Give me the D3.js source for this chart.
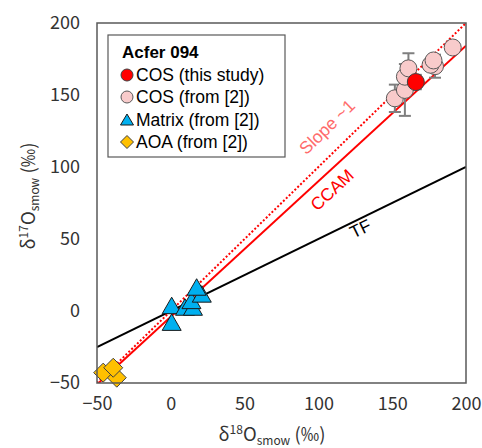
<!DOCTYPE html>
<html>
<head>
<meta charset="utf-8">
<script src="https://cdn.jsdelivr.net/npm/d3@7"></script>
<style>
  body { margin: 0; background: #fff; }
  svg { display: block; }
</style>
</head>
<body>
<div id="chart"></div>
<script>
// data (delta18O, delta17O in permil)
var cosThisStudy = [[166, 159, 5]];
var cosRef = [
  [151.8, 147.7, 9.5],
  [158.6, 153.5, 18],
  [158.6, 162.7, 0],
  [161, 168.5, 10.5],
  [179, 170, 8],
  [176, 171, 0],
  [178, 174, 0],
  [191, 183, 0]
];
var matrixRef = [
  [0.6, -8.6], [0.6, 3], [9.6, 1.9], [15, 1.9],
  [14, 6.5], [21, 11], [17.5, 15.8]
];
var aoaRef = [[-36.6, -46.3], [-45.8, -42.8], [-39, -39.4]];

// reference lines: slope, intercept
var tfLine = [0.5, 0];
var ccamLine = [0.941, -4.0];
var slope1Line = [1.0, 0];

var xTicks = [-50, 0, 50, 100, 150, 200];
var yTicks = [-50, 0, 50, 100, 150, 200];

var legendItems = ["COS (this study)", "COS (from [2])", "Matrix (from [2])", "AOA (from [2])"];

var width = 482, height = 448;
var margin = {left: 97, right: 16, top: 23, bottom: 65};

var svg = d3.select("#chart").append("svg")
  .attr("width", width)
  .attr("height", height);

var x = d3.scaleLinear().domain([-50, 200]).range([margin.left, width - margin.right]);
var y = d3.scaleLinear().domain([-50, 200]).range([height - margin.bottom, margin.top]);

svg.append("defs").append("clipPath").attr("id", "clip")
  .append("rect")
  .attr("x", x(-50)).attr("y", y(200))
  .attr("width", x(200) - x(-50)).attr("height", y(-50) - y(200));

var plot = svg.append("g").attr("clip-path", "url(#clip)");

function lineEnds(l) {
  // clip line to the domain box
  var pts = [];
  [-50, 200].forEach(function(xv) {
    var yv = l[0] * xv + l[1];
    if (yv >= -50 && yv <= 200) pts.push([xv, yv]);
  });
  [-50, 200].forEach(function(yv) {
    var xv = (yv - l[1]) / l[0];
    if (xv > -50 && xv < 200) pts.push([xv, yv]);
  });
  pts.sort(function(a, b) { return a[0] - b[0]; });
  return [pts[0], pts[pts.length - 1]];
}

function drawLine(l, color, dash, w) {
  var e = lineEnds(l);
  plot.append("line")
    .attr("x1", x(e[0][0])).attr("y1", y(e[0][1]))
    .attr("x2", x(e[1][0])).attr("y2", y(e[1][1]))
    .attr("stroke", color)
    .attr("stroke-width", w)
    .attr("stroke-dasharray", dash);
}

drawLine(tfLine, "#000", null, 2);
drawLine(ccamLine, "#ff0000", null, 2);
drawLine(slope1Line, "#ff0000", "2,2", 2);

// line labels
function lineLabel(txt, px, py, l, color) {
  var ang = -Math.atan(l[0] * (y(0) - y(1)) / (x(1) - x(0))) * 180 / Math.PI;
  svg.append("text")
    .attr("transform", "translate(" + px + "," + py + ") rotate(" + ang + ")")
    .attr("text-anchor", "middle")
    .attr("dominant-baseline", "middle")
    .style("font-family", "Liberation Sans, Arial, sans-serif")
    .style("font-size", "17.5px")
    .attr("fill", color)
    .text(txt);
}
lineLabel("Slope ~1", 328, 128, slope1Line, "#ff6b6b");
lineLabel("CCAM", 333, 191, ccamLine, "#ff0000");
lineLabel("TF", 361, 230, tfLine, "#000");

// error bars
var errData = cosRef.concat(cosThisStudy).filter(function(d) { return d[2] > 0; });
var eb = svg.append("g").attr("stroke", "#7f7f7f").attr("stroke-width", 2);
errData.forEach(function(d) {
  var cx = x(d[0]);
  eb.append("line").attr("x1", cx).attr("x2", cx).attr("y1", y(d[1] - d[2])).attr("y2", y(d[1] + d[2]));
  eb.append("line").attr("x1", cx - 6).attr("x2", cx + 6).attr("y1", y(d[1] - d[2])).attr("y2", y(d[1] - d[2]));
  eb.append("line").attr("x1", cx - 6).attr("x2", cx + 6).attr("y1", y(d[1] + d[2])).attr("y2", y(d[1] + d[2]));
});

var triPath = "M0,-9.5L9.5,7L-9.5,7Z";
var diaPath = "M0,-9.5L9.5,0L0,9.5L-9.5,0Z";

svg.append("g").selectAll("path")
  .data(aoaRef).enter().append("path")
  .attr("d", diaPath)
  .attr("transform", function(d) { return "translate(" + x(d[0]) + "," + y(d[1]) + ")"; })
  .attr("fill", "#ffc000").attr("stroke", "#404040").attr("stroke-width", 1);

svg.append("g").selectAll("path")
  .data(matrixRef).enter().append("path")
  .attr("d", triPath)
  .attr("transform", function(d) { return "translate(" + x(d[0]) + "," + y(d[1]) + ")"; })
  .attr("fill", "#00b0f0").attr("stroke", "#1a1a1a").attr("stroke-width", 1);

svg.append("g").selectAll("circle")
  .data(cosRef).enter().append("circle")
  .attr("cx", function(d) { return x(d[0]); })
  .attr("cy", function(d) { return y(d[1]); })
  .attr("r", 8.5)
  .attr("fill", "#f8cbcb").attr("stroke", "#595959").attr("stroke-width", 1);

svg.append("g").selectAll("circle")
  .data(cosThisStudy).enter().append("circle")
  .attr("cx", function(d) { return x(d[0]); })
  .attr("cy", function(d) { return y(d[1]); })
  .attr("r", 8.5)
  .attr("fill", "#ff0000").attr("stroke", "#404040").attr("stroke-width", 1);

// frame
svg.append("rect")
  .attr("x", x(-50)).attr("y", y(200))
  .attr("width", x(200) - x(-50)).attr("height", y(-50) - y(200))
  .attr("fill", "none").attr("stroke", "#595959").attr("stroke-width", 1.5);

// axes
var tickFont = "Noto Sans CJK JP, Noto Sans, sans-serif";
var xAxis = svg.append("g")
  .attr("transform", "translate(0," + (height - margin.bottom) + ")")
  .call(d3.axisBottom(x).tickValues(xTicks).tickSize(0).tickPadding(14));
var yAxis = svg.append("g")
  .attr("transform", "translate(" + margin.left + ",0)")
  .call(d3.axisLeft(y).tickValues(yTicks).tickSize(0).tickPadding(17));
[xAxis, yAxis].forEach(function(a) {
  a.select(".domain").remove();
  a.selectAll("text")
    .style("font-family", tickFont)
    .style("font-size", "18px")
    .attr("fill", "#333");
});

// axis titles
function axisTitle(sel, num) {
  sel.append("tspan").text("δ");
  sel.append("tspan").attr("dy", -7).style("font-size", "12px").text(num);
  sel.append("tspan").attr("dy", 7).text("O");
  sel.append("tspan").attr("dy", 4).style("font-size", "12px").text("smow");
  sel.append("tspan").attr("dy", -4).text(" (‰)");
}
var xt = svg.append("text")
  .attr("x", 272).attr("y", 441)
  .attr("text-anchor", "middle")
  .style("font-family", tickFont)
  .style("font-size", "18.5px")
  .attr("fill", "#333");
axisTitle(xt, "18");

var yt = svg.append("text")
  .attr("transform", "translate(35,196) rotate(-90)")
  .attr("text-anchor", "middle")
  .style("font-family", tickFont)
  .style("font-size", "18.5px")
  .attr("fill", "#333");
axisTitle(yt, "17");

// legend
var lg = svg.append("g");
lg.append("rect")
  .attr("x", 108).attr("y", 35).attr("width", 177).attr("height", 122)
  .attr("fill", "#fff").attr("stroke", "#595959").attr("stroke-width", 1.2);
var legFont = "Liberation Sans, Arial, sans-serif";
lg.append("text")
  .attr("x", 122).attr("y", 58)
  .style("font-family", legFont).style("font-size", "17px").style("font-weight", "bold")
  .text("Acfer 094");
var legY = [81, 103, 126, 148];
legendItems.forEach(function(t, i) {
  var cy = legY[i] - 6;
  var g = lg.append("g").attr("transform", "translate(127," + cy + ")");
  if (i === 0) g.append("circle").attr("r", 6).attr("fill", "#ff0000").attr("stroke", "#404040");
  if (i === 1) g.append("circle").attr("r", 6).attr("fill", "#f8cbcb").attr("stroke", "#595959");
  if (i === 2) g.append("path").attr("d", "M0,-6L6.5,5L-6.5,5Z").attr("fill", "#00b0f0").attr("stroke", "#1a1a1a");
  if (i === 3) g.append("path").attr("d", "M0,-6.5L6.5,0L0,6.5L-6.5,0Z").attr("fill", "#ffc000").attr("stroke", "#404040");
  lg.append("text")
    .attr("x", 136).attr("y", legY[i])
    .style("font-family", legFont).style("font-size", "17.5px")
    .text(t);
});
</script>
</body>
</html>
